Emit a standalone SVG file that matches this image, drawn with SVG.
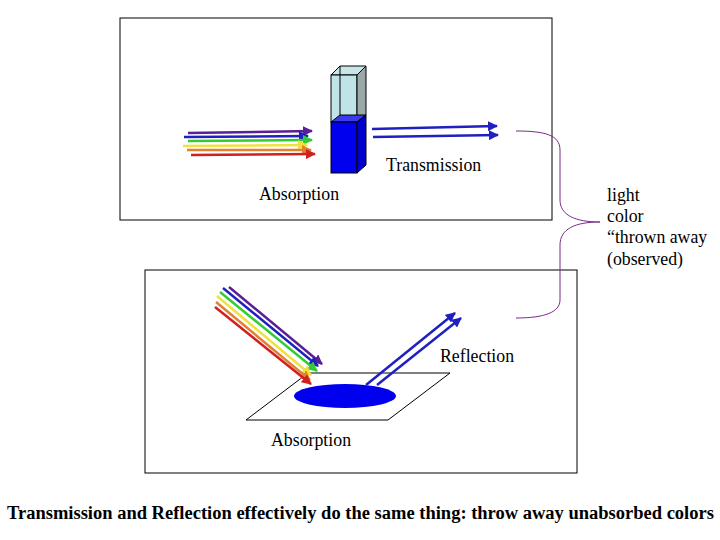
<svg xmlns="http://www.w3.org/2000/svg" width="720" height="540" viewBox="0 0 720 540">
<style>
text{font-family:'Liberation Serif','Times New Roman','DejaVu Serif',serif;font-size:17.8px;fill:#000}
.box{fill:none;stroke:#000;stroke-width:1}
.a{stroke-width:2.5;fill:none}
</style>
<defs>
<marker id="m" viewBox="0 0 10 10" refX="9" refY="5" markerWidth="4" markerHeight="4" orient="auto" markerUnits="strokeWidth"><path d="M0,0L10,5L0,10z" fill="context-stroke"/></marker>
</defs>
<rect width="720" height="540" fill="#fff"/>
<g id="top-panel">
<rect class="box" x="120" y="18" width="432" height="202"/>
<g id="cuvette" stroke="#000" stroke-width="1">
<polygon points="331,75 357,75 366,66 340,66" fill="#c8e6e8"/>
<rect x="331" y="75" width="26" height="47" fill="#bfe3e6"/>
<polygon points="357,75 366,66 366,115 357,122" fill="#9aa8a8"/>
<line x1="340" y1="66" x2="340" y2="115"/>
<polygon points="331,122 357,122 366,115 340,115" fill="#3a3af0"/>
<rect x="331" y="122" width="26" height="51" fill="#0000ee"/>
<polygon points="357,122 366,115 366,165 357,173" fill="#0000cc"/>
</g>
<text x="386" y="171">Transmission</text>
<text x="259" y="200">Absorption</text>
</g>
<g id="bottom-panel">
<rect class="box" x="145" y="270" width="432" height="203"/>
<polygon points="246,420 308,373 450,373 388,420" fill="#fff" stroke="#000"/>
<ellipse cx="345" cy="396" rx="51" ry="12" fill="#0000ee"/>
<text x="440" y="362">Reflection</text>
<text x="271" y="446">Absorption</text>
</g>
<g id="label-light">
<text x="607" y="201">light</text>
<text x="607" y="222">color</text>
<text x="607" y="243">“thrown away</text>
<text x="607" y="265">(observed)</text>
</g>
<g id="connectors" marker-end="url(#m)">
<line class="a" x1="188" y1="133" x2="312" y2="131" stroke="#5a1e96"/>
<line class="a" x1="184" y1="137" x2="308" y2="136" stroke="#2020c0"/>
<line class="a" x1="188" y1="141" x2="312" y2="140" stroke="#33cc33"/>
<line class="a" x1="183" y1="146" x2="307" y2="145" stroke="#f0e040"/>
<line class="a" x1="187" y1="150" x2="311" y2="150" stroke="#e08030"/>
<line class="a" x1="191" y1="155" x2="315" y2="154" stroke="#d02020"/>
<line class="a" x1="372" y1="129" x2="497" y2="126" stroke="#2020c0"/>
<line class="a" x1="373" y1="137" x2="498" y2="135" stroke="#2020c0"/>
<line class="a" x1="229" y1="287" x2="322" y2="364" stroke="#5a1e96"/>
<line class="a" x1="223" y1="288" x2="318" y2="366" stroke="#2020c0"/>
<line class="a" x1="220" y1="292" x2="317" y2="371" stroke="#33cc33"/>
<line class="a" x1="217" y1="296" x2="311" y2="375" stroke="#f0e040"/>
<line class="a" x1="216" y1="302" x2="310" y2="380" stroke="#e08030"/>
<line class="a" x1="215" y1="307" x2="311" y2="384" stroke="#d02020"/>
<line class="a" x1="366" y1="385" x2="455" y2="313" stroke="#2020c0"/>
<line class="a" x1="377" y1="385" x2="461" y2="318" stroke="#2020c0"/>
<path d="M516,131 C545,131 560,135 560,150 L560,200 C560,215 575,222 600,222 C575,222 560,229 560,245 L560,300 C560,312 545,318 516,318" fill="none" stroke="#7a2a8a" stroke-width="1" marker-end="none"/>
</g>
<text x="7" y="519" font-weight="bold" style="font-size:18.5px">Transmission and Reflection effectively do the same thing: throw away unabsorbed colors</text>
</svg>
